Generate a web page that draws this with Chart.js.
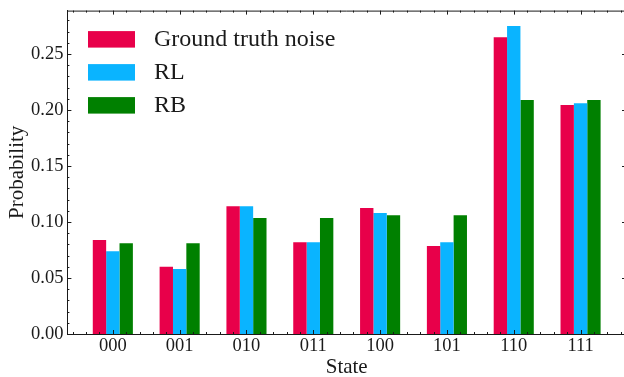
<!DOCTYPE html>
<html>
<head>
<meta charset="utf-8">
<script src="https://cdn.jsdelivr.net/npm/chart.js@4"></script>
<style>
    html, body { margin: 0; padding: 0; background: #fff; overflow: hidden; }
    #wrap { width: 626px; height: 377px; position: relative; }
</style>
</head>
<body>
<div id="wrap"><canvas id="chart"></canvas></div>
<script>
// 数据
const states = ['000', '001', '010', '011', '100', '101', '110', '111'];
const groundTruth = [0.084, 0.060, 0.114, 0.082, 0.1125, 0.0785, 0.265, 0.2045];
const rlValues = [0.074, 0.058, 0.114, 0.082, 0.108, 0.082, 0.275, 0.206];
const rbValues = [0.081, 0.081, 0.1035, 0.1035, 0.106, 0.106, 0.209, 0.209];
const yTicks = [0, 0.05, 0.10, 0.15, 0.20, 0.25];
const seriesNames = ['Ground truth noise', 'RL', 'RB'];
const seriesColors = ['#E8004A', '#0AB4FF', '#008000'];

const FONT = 'Liberation Serif';
const INK = '#1a1a1a';

// 刻度线 + 上/右边框（matplotlib science 风格，朝内）
const tickPlugin = {
    id: 'inwardTicks',
    afterDraw(chart) {
        const { ctx, chartArea: a, scales: { x, y } } = chart;
        ctx.save();
        ctx.strokeStyle = INK;
        ctx.lineWidth = 1;
        ctx.beginPath();
        ctx.moveTo(a.left, a.top + 0.5);
        ctx.lineTo(a.right, a.top + 0.5);
        ctx.moveTo(a.right - 0.5, a.top);
        ctx.lineTo(a.right - 0.5, a.bottom);
        // y 轴刻度
        for (let k = 0; k <= 28; k++) {
            const py = Math.round(y.getPixelForValue(k / 100)) + 0.5;
            const len = k % 5 === 0 ? 4 : 2;
            ctx.moveTo(a.left, py); ctx.lineTo(a.left + len, py);
            ctx.moveTo(a.right, py); ctx.lineTo(a.right - len, py);
        }
        // x 轴刻度
        for (let k = -3; k <= 38; k++) {
            const px = Math.round(x.getPixelForValue(k * 0.2)) + 0.5;
            const len = k % 5 === 0 ? 4 : 2;
            ctx.moveTo(px, a.bottom); ctx.lineTo(px, a.bottom - len);
            ctx.moveTo(px, a.top); ctx.lineTo(px, a.top + len);
        }
        ctx.stroke();
        ctx.restore();
    }
};

// 图例画在绘图区内
const legendPlugin = {
    id: 'innerLegend',
    afterDraw(chart) {
        const { ctx, chartArea: a } = chart;
        ctx.save();
        ctx.font = `24px "${FONT}"`;
        ctx.textBaseline = 'middle';
        chart.data.datasets.forEach((ds, i) => {
            const top = a.top + 20.5 + i * 33;
            ctx.fillStyle = ds.backgroundColor;
            ctx.fillRect(a.left + 20.6, top, 47, 16.5);
            ctx.fillStyle = INK;
            ctx.fillText(ds.label, a.left + 86.6, top + 9);
        });
        ctx.restore();
    }
};

// 去掉坐标轴自动留白
const noPad = scale => {
    scale.paddingTop = 0;
    scale.paddingBottom = 0;
    scale.paddingLeft = 0;
    scale.paddingRight = 0;
};

const makeDataset = (values, i) => ({
    label: seriesNames[i],
    data: values,
    backgroundColor: seriesColors[i],
    borderWidth: 0,
    categoryPercentage: 0.6,
    barPercentage: 1.0
});

new Chart(document.getElementById('chart'), {
    type: 'bar',
    data: {
        labels: states.map((_, i) => i),
        datasets: [groundTruth, rlValues, rbValues].map(makeDataset)
    },
    plugins: [tickPlugin, legendPlugin],
    options: {
        responsive: true,
        maintainAspectRatio: false,
        animation: false,
        layout: { padding: { top: 10.6, right: 0, left: 0, bottom: 0 } },
        plugins: { legend: { display: false }, tooltip: { enabled: false } },
        scales: {
            x: {
                type: 'linear',
                min: -0.68,
                max: 7.68,
                offset: false,
                grid: { display: false, drawTicks: false },
                border: { display: true, color: INK, width: 1 },
                afterBuildTicks: scale => { scale.ticks = states.map((_, i) => ({ value: i })); },
                afterFit: scale => { scale.height = 43; noPad(scale); },
                ticks: {
                    autoSkip: false,
                    maxRotation: 0,
                    padding: 1,
                    color: INK,
                    font: { family: FONT, size: 18.5 },
                    callback: v => states[v] ?? ''
                },
                title: {
                    display: true,
                    text: 'State',
                    color: INK,
                    padding: { top: 0, bottom: -3 },
                    font: { family: FONT, size: 21 }
                }
            },
            y: {
                min: 0,
                max: 0.2888,
                grid: { display: false, drawTicks: false },
                border: { display: true, color: INK, width: 1 },
                afterBuildTicks: scale => { scale.ticks = yTicks.map(v => ({ value: v })); },
                afterFit: scale => { scale.width = 67.4; noPad(scale); },
                ticks: {
                    padding: 4,
                    color: INK,
                    font: { family: FONT, size: 18.5 },
                    callback: v => v.toFixed(2)
                },
                title: {
                    display: true,
                    text: 'Probability',
                    color: INK,
                    padding: { top: 5, bottom: 4 },
                    font: { family: FONT, size: 21 }
                }
            }
        }
    }
});
</script>
</body>
</html>
